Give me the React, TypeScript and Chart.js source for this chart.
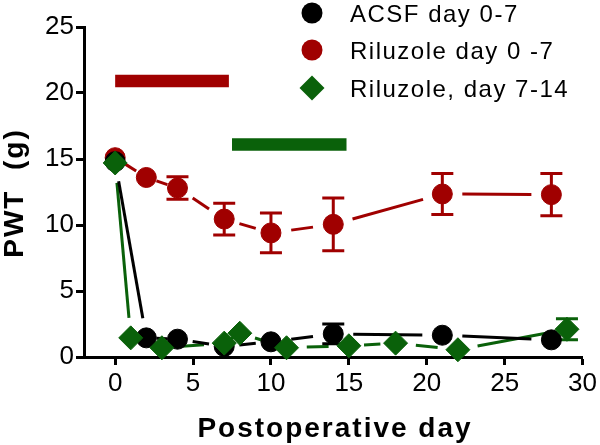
import React, { useEffect, useRef } from 'react';
import { Chart, registerables } from 'chart.js';

Chart.register(...registerables);

// ---- data ----
const acsfDays = [0, 2, 4, 7, 10, 14, 21, 28];
const acsfPWT = [14.8, 1.45, 1.35, 0.8, 1.15, 1.75, 1.65, 1.3];
const acsfErr = [0, 0, 0, 0, 0, 0.75, 0, 0];

const rilu07Days = [0, 2, 4, 7, 10, 14, 21, 28];
const rilu07PWT = [15.1, 13.6, 12.8, 10.45, 9.4, 10.05, 12.35, 12.3];
const rilu07Err = [0, 0, 0.85, 1.2, 1.5, 2.0, 1.55, 1.6];

const rilu714Days = [0, 1, 3, 7, 8, 11, 15, 18, 22, 29];
const rilu714PWT = [14.7, 1.45, 0.7, 1.05, 1.8, 0.7, 0.85, 1.05, 0.55, 2.1];
const rilu714Err = [0, 0, 0, 0, 0, 0, 0, 0, 0, 0.8];

// treatment period bars
const redBarDays = [0, 7.3];
const redBarLevel = 20.9;
const greenBarDays = [7.5, 14.85];
const greenBarLevel = 16.1;

// segment styles: 's' solid, 'd' dashed
const acsfSegs = ['s', 'd', 'd', 'd', 'd', 's', 's'];
const rilu07Segs = ['d', 'd', 'd', 'd', 'd', 's', 's'];
const rilu714Segs = ['s', 'd', 'd', 'd', 'd', 'd', 'd', 'd', 's'];

const legendLabels = ['ACSF day 0-7', 'Riluzole day 0 -7', 'Riluzole, day 7-14'];
const xTicks = [0, 5, 10, 15, 20, 25, 30];
const yTicks = [0, 5, 10, 15, 20, 25];
const xTitle = 'Postoperative day';
const yTitle = 'PWT  (g)';

const RED = '#A00000';
const GREEN = '#0A610A';
const BLACK = '#000000';
const FONT = 'Arial, "Liberation Sans", sans-serif';

const pts = (xs: number[], ys: number[]) => xs.map((x, i) => ({ x, y: ys[i] }));

const gapLinesPlugin = {
  id: 'gapLines',
  beforeDatasetsDraw(chart: any) {
    const ctx = chart.ctx;
    chart.data.datasets.forEach((ds: any, di: number) => {
      if (!ds.segStyles) return;
      const meta = chart.getDatasetMeta(di);
      ctx.save();
      ctx.strokeStyle = ds.lineColor;
      ctx.lineWidth = 3;
      ctx.lineCap = 'butt';
      for (let i = 0; i < meta.data.length - 1; i++) {
        const a = meta.data[i];
        const b = meta.data[i + 1];
        const dx = b.x - a.x;
        const dy = b.y - a.y;
        const L = Math.hypot(dx, dy);
        if (L < 1) continue;
        const ux = dx / L;
        const uy = dy / L;
        let s0: number, s1: number;
        if (ds.segStyles[i] === 's') {
          const g = L > 60 ? 20 : L * 0.3;
          s0 = g;
          s1 = L - g;
        } else {
          const len = Math.max(6, Math.min(22, L * 0.35));
          s0 = (L - len) / 2;
          s1 = (L + len) / 2;
        }
        ctx.beginPath();
        ctx.moveTo(a.x + ux * s0, a.y + uy * s0);
        ctx.lineTo(a.x + ux * s1, a.y + uy * s1);
        ctx.stroke();
      }
      ctx.restore();
    });
  },
};

const errorBarsPlugin = {
  id: 'errorBars',
  beforeDatasetsDraw(chart: any) {
    const ctx = chart.ctx;
    const yScale = chart.scales.y;
    chart.data.datasets.forEach((ds: any, di: number) => {
      if (!ds.errors) return;
      const meta = chart.getDatasetMeta(di);
      ctx.save();
      ctx.strokeStyle = ds.lineColor;
      ctx.lineWidth = 3;
      ds.errors.forEach((e: number, i: number) => {
        if (!e) return;
        const p = meta.data[i];
        const v = ds.data[i].y;
        const yt = yScale.getPixelForValue(v + e);
        const yb = yScale.getPixelForValue(v - e);
        ctx.beginPath();
        ctx.moveTo(p.x, yt);
        ctx.lineTo(p.x, yb);
        ctx.moveTo(p.x - 11, yt);
        ctx.lineTo(p.x + 11, yt);
        ctx.moveTo(p.x - 11, yb);
        ctx.lineTo(p.x + 11, yb);
        ctx.stroke();
      });
      ctx.restore();
    });
  },
};

const legendPlugin = {
  id: 'customLegend',
  afterDraw(chart: any) {
    const ctx = chart.ctx;
    const styles = [
      { color: BLACK, shape: 'circle' },
      { color: RED, shape: 'circle' },
      { color: GREEN, shape: 'diamond' },
    ];
    const mx = 312;
    const tx = 350;
    const ys = [13, 50, 88];
    ctx.save();
    styles.forEach((s, i) => {
      const y = ys[i];
      ctx.fillStyle = s.color;
      ctx.beginPath();
      if (s.shape === 'circle') {
        ctx.arc(mx, y, 10.5, 0, Math.PI * 2);
      } else {
        ctx.moveTo(mx, y - 12.5);
        ctx.lineTo(mx + 12.5, y);
        ctx.lineTo(mx, y + 12.5);
        ctx.lineTo(mx - 12.5, y);
        ctx.closePath();
      }
      ctx.fill();
      ctx.fillStyle = '#000';
      ctx.font = `24px ${FONT}`;
      (ctx as any).letterSpacing = '1.5px';
      ctx.textAlign = 'left';
      ctx.textBaseline = 'alphabetic';
      ctx.fillText(legendLabels[i], tx, y + 8.5);
    });
    ctx.restore();
  },
};

const titlesPlugin = {
  id: 'axisTitles',
  afterDraw(chart: any) {
    const ctx = chart.ctx;
    ctx.save();
    ctx.fillStyle = '#000';
    ctx.font = `bold 28px ${FONT}`;
    (ctx as any).letterSpacing = '2px';
    ctx.textAlign = 'center';
    ctx.textBaseline = 'alphabetic';
    ctx.fillText(xTitle, 335, 437);
    ctx.translate(23, 193);
    ctx.rotate(-Math.PI / 2);
    ctx.fillText(yTitle, 0, 0);
    ctx.restore();
  },
};

export default function App() {
  const canvasRef = useRef<HTMLCanvasElement | null>(null);

  useEffect(() => {
    document.body.style.margin = '0';
    const canvas = canvasRef.current!;
    const chart = new Chart(canvas, {
      type: 'scatter',
      data: {
        datasets: [
          {
            label: legendLabels[2],
            data: pts(rilu714Days, rilu714PWT),
            errors: rilu714Err,
            segStyles: rilu714Segs,
            lineColor: GREEN,
            showLine: false,
            pointStyle: 'rectRot',
            pointRadius: 12,
            backgroundColor: GREEN,
            borderColor: GREEN,
            borderWidth: 1,
            clip: false,
          } as any,
          {
            label: legendLabels[0],
            data: pts(acsfDays, acsfPWT),
            errors: acsfErr,
            segStyles: acsfSegs,
            lineColor: BLACK,
            showLine: false,
            pointStyle: 'circle',
            pointRadius: 10,
            backgroundColor: BLACK,
            borderColor: BLACK,
            borderWidth: 1,
            clip: false,
          } as any,
          {
            label: legendLabels[1],
            data: pts(rilu07Days, rilu07PWT),
            errors: rilu07Err,
            segStyles: rilu07Segs,
            lineColor: RED,
            showLine: false,
            pointStyle: 'circle',
            pointRadius: 10,
            backgroundColor: RED,
            borderColor: RED,
            borderWidth: 1,
            clip: false,
          } as any,
          {
            label: 'riluzole day 0-7 period',
            data: redBarDays.map((x) => ({ x, y: redBarLevel })),
            showLine: true,
            borderColor: RED,
            borderWidth: 12.5,
            borderCapStyle: 'butt',
            pointRadius: 0,
            clip: false,
          } as any,
          {
            label: 'riluzole day 7-14 period',
            data: greenBarDays.map((x) => ({ x, y: greenBarLevel })),
            showLine: true,
            borderColor: GREEN,
            borderWidth: 12.5,
            borderCapStyle: 'butt',
            pointRadius: 0,
            clip: false,
          } as any,
        ],
      },
      options: {
        animation: false,
        responsive: false,
        maintainAspectRatio: false,
        layout: { padding: { top: 27, right: 15, left: 0, bottom: 0 } },
        plugins: {
          legend: { display: false },
          tooltip: { enabled: false },
        },
        scales: {
          x: {
            type: 'linear',
            min: -2,
            max: 30,
            afterBuildTicks: (scale: any) => {
              scale.ticks = xTicks.map((v) => ({ value: v }));
            },
            afterFit: (scale: any) => {
              scale.height = 88;
            },
            border: { display: true, color: '#000', width: 3 },
            grid: {
              display: true,
              drawOnChartArea: false,
              drawTicks: true,
              tickLength: 8,
              tickColor: '#000',
              tickWidth: 3,
            },
            ticks: {
              color: '#000',
              font: { family: FONT, size: 26 },
              padding: 3,
              maxRotation: 0,
              autoSkip: false,
            },
            title: { display: false },
          },
          y: {
            type: 'linear',
            min: 0,
            max: 25,
            afterBuildTicks: (scale: any) => {
              scale.ticks = yTicks.map((v) => ({ value: v }));
            },
            afterFit: (scale: any) => {
              scale.width = 84;
            },
            border: { display: true, color: '#000', width: 3 },
            grid: {
              display: true,
              drawOnChartArea: false,
              drawTicks: true,
              tickLength: 8,
              tickColor: '#000',
              tickWidth: 3,
            },
            ticks: {
              color: '#000',
              font: { family: FONT, size: 26 },
              padding: 2,
              autoSkip: false,
            },
            title: { display: false },
          },
        },
      } as any,
      plugins: [gapLinesPlugin, errorBarsPlugin, legendPlugin, titlesPlugin],
    });
    return () => chart.destroy();
  }, []);

  return (
    <div style={{ width: 600, height: 445, background: '#fff' }}>
      <canvas ref={canvasRef} width={600} height={445} style={{ display: 'block' }} />
    </div>
  );
}
